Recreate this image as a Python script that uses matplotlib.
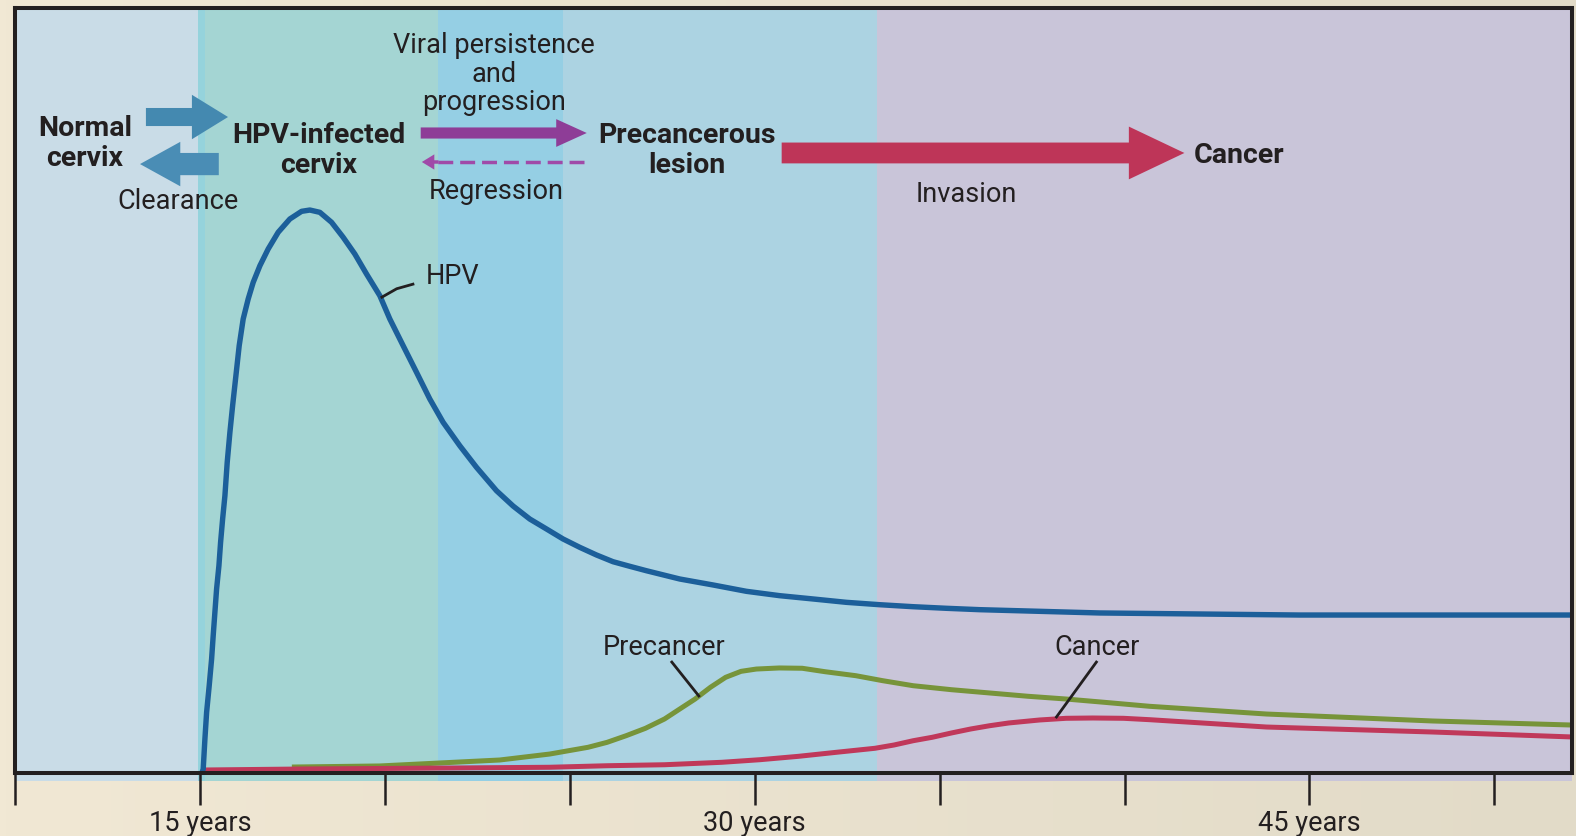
import matplotlib
matplotlib.use("Agg")
import matplotlib.pyplot as plt
import numpy as np
from matplotlib.colors import LinearSegmentedColormap

# ---------------- data ----------------
hpv_years = [15.054, 15.089, 15.135, 15.181, 15.251, 15.316, 15.359, 15.405, 15.451, 15.514,
             15.559, 15.614, 15.676, 15.738, 15.811, 15.884, 15.973, 16.062, 16.17, 16.305,
             16.441, 16.622, 16.846, 17.116, 17.432, 17.749, 17.973, 18.243, 18.559, 18.873,
             19.189, 19.505, 19.865, 20.135, 20.495, 20.857, 21.216, 21.576, 22.027, 22.478,
             23.019, 23.468, 23.919, 24.37, 24.819, 25.27, 25.722, 26.17, 26.622, 27.073,
             27.973, 28.873, 29.776, 30.676, 31.576, 32.478, 33.378, 34.278, 35.181, 36.081,
             39.324, 44.73, 52.1]
hpv_level = [0.0, 0.52, 4.44, 7.93, 11.41, 14.9, 17.95, 21.01, 24.05, 27.1,
             30.16, 33.2, 36.25, 40.61, 44.54, 48.01, 51.93, 55.86, 59.35, 61.96,
             64.14, 66.31, 68.5, 70.68, 72.42, 73.42, 73.59, 73.29, 71.99, 70.03,
             67.84, 65.23, 62.39, 59.35, 55.86, 52.38, 48.89, 45.84, 42.78, 39.96,
             36.9, 34.9, 33.2, 31.9, 30.59, 29.5, 28.5, 27.62, 27.02, 26.44,
             25.36, 24.58, 23.75, 23.18, 22.75, 22.31, 22.0, 21.74, 21.53, 21.35,
             20.92, 20.65, 20.65]

precancer_years = [17.486, 19.865, 21.486, 23.108, 24.459, 24.976, 25.495, 26.011, 26.527, 27.046,
                   27.562, 27.976, 28.389, 28.803, 29.216, 29.632, 30.046, 30.665, 31.286, 31.905,
                   32.735, 33.459, 34.286, 35.319, 36.354, 37.389, 38.422, 39.457, 40.676, 43.838,
                   48.324, 52.1]
precancer_level = [0.78, 0.92, 1.31, 1.7, 2.48, 2.92, 3.36, 4.01, 4.88, 5.84,
                   7.06, 8.37, 9.67, 11.2, 12.51, 13.29, 13.59, 13.73, 13.69, 13.24,
                   12.72, 12.07, 11.41, 10.89, 10.46, 10.03, 9.67, 9.24, 8.72, 7.71,
                   6.8, 6.27]

cancer_years = [15.054, 17.703, 21.757, 24.459, 26.011, 27.562, 29.114, 30.149, 31.184, 32.216,
                33.251, 33.768, 34.286, 34.803, 35.319, 35.838, 36.354, 36.87, 37.703, 38.422,
                39.146, 39.973, 40.676, 43.838, 48.324, 52.1]
cancer_level = [0.39, 0.52, 0.65, 0.75, 0.95, 1.08, 1.4, 1.74, 2.18, 2.71,
                3.23, 3.66, 4.22, 4.67, 5.23, 5.75, 6.18, 6.54, 6.93, 7.15,
                7.19, 7.15, 6.97, 6.01, 5.36, 4.71]

tick_years = [10, 15, 20, 25, 30, 35, 40, 45, 50]
tick_labels = ["", "15 years", "", "", "30 years", "", "", "45 years", ""]

# phase bands (start year, end year, colour)
band_starts = [10.0, 14.95, 15.14, 21.43, 24.81, 33.3]
band_ends = [14.95, 15.14, 21.43, 24.81, 33.3, 52.1]
band_colors = ["#c9dce7", "#95d3dc", "#a4d5d3", "#95cfe4", "#acd3e2", "#c9c5d9"]

# ---------------- fonts ----------------
plt.rcParams["font.family"] = ["Roboto", "DejaVu Sans"]
FSB = 20.5
FS = 19.5

INK = "#231f20"

fig = plt.figure(figsize=(15.76, 8.37), dpi=100)

# background gradient
bg = fig.add_axes([0, 0, 1, 1], zorder=-10)
grad = np.linspace(0, 1, 256)[None, :]
cm = LinearSegmentedColormap.from_list("bg", ["#f1e8d4", "#e2dbc8"])
bg.imshow(grad, aspect="auto", cmap=cm, extent=[0, 1, 0, 1])
bg.set_axis_off()

ax = fig.add_axes([15 / 1576, 63 / 837, 1557 / 1576, 765 / 837])
ax.set_xlim(10, 52.1)
ax.set_ylim(0, 100)

for s, e, c in zip(band_starts, band_ends, band_colors):
    ax.axvspan(s, e, ymin=-0.01, ymax=1, color=c, lw=0, zorder=0, clip_on=False)

ax.plot(precancer_years, precancer_level, color="#77943a", lw=3.6,
        solid_capstyle="butt", solid_joinstyle="round", zorder=3)
ax.plot(cancer_years, cancer_level, color="#c0385a", lw=3.6,
        solid_capstyle="butt", solid_joinstyle="round", zorder=3)
ax.plot(hpv_years, hpv_level, color="#1c5f9a", lw=3.9,
        solid_capstyle="butt", solid_joinstyle="round", zorder=4)

for sp in ax.spines.values():
    sp.set_linewidth(2.9)
    sp.set_color(INK)
    sp.set_zorder(6)

ax.set_yticks([])
ax.set_xticks(tick_years)
ax.set_xticklabels(tick_labels)
ax.tick_params(axis="x", direction="out", length=23, width=1.8, color=INK,
               labelsize=FS, labelcolor=INK, pad=3)

# ---------------- arrows ----------------
def block_arrow(x0, x1, y, tail, head_w, head_l, color):
    ax.annotate("", xy=(x1, y), xytext=(x0, y),
                arrowprops=dict(arrowstyle=f"simple,head_width={head_w},head_length={head_l},tail_width={tail}",
                                mutation_scale=1, color=color, lw=0, shrinkA=0, shrinkB=0),
                zorder=5)

block_arrow(13.54, 15.76, 85.75, 13, 32, 26, "#4489b0")
block_arrow(15.51, 13.38, 79.6, 16, 32, 29, "#4a8db5")
block_arrow(20.97, 25.46, 83.66, 8, 20, 22, "#8e3d97")
block_arrow(30.73, 41.62, 81.05, 15, 38, 40, "#be3558")
# dashed regression arrow
ax.plot([25.38, 21.4], [79.87, 79.87], color="#a04aa8", lw=2.5, dashes=(4.3, 2), zorder=5)
block_arrow(21.45, 21.0, 79.87, 2.5, 11, 9, "#a04aa8")

# ---------------- labels ----------------
bold = dict(fontsize=FSB, fontweight="bold", color=INK, ha="center", va="center", linespacing=1.15, zorder=7)
reg = dict(fontsize=FS, color=INK, ha="center", va="center", linespacing=1.05, zorder=7)

ax.text(11.89, 82.4, "Normal\ncervix", **bold)
ax.text(18.22, 81.5, "HPV-infected\ncervix", **bold)
ax.text(28.16, 81.5, "Precancerous\nlesion", **bold)
ax.text(43.11, 80.9, "Cancer", **bold)
ax.text(14.41, 74.8, "Clearance", **reg)
ax.text(22.95, 91.5, "Viral persistence\nand\nprogression", **reg)
ax.text(23.0, 76.1, "Regression", **reg)
ax.text(35.73, 75.7, "Invasion", **reg)
ax.text(21.84, 65.0, "HPV", **reg)
ax.text(27.54, 16.6, "Precancer", **reg)
ax.text(39.27, 16.6, "Cancer", **reg)

ax.plot([20.76, 20.32, 19.92], [63.9, 63.3, 62.2], color=INK, lw=2, zorder=6)
ax.plot([27.76, 28.49], [14.5, 10.07], color=INK, lw=2, zorder=6)
ax.plot([39.24, 38.16], [14.5, 7.32], color=INK, lw=2, zorder=6)

fig.savefig("out.png", dpi=100)
